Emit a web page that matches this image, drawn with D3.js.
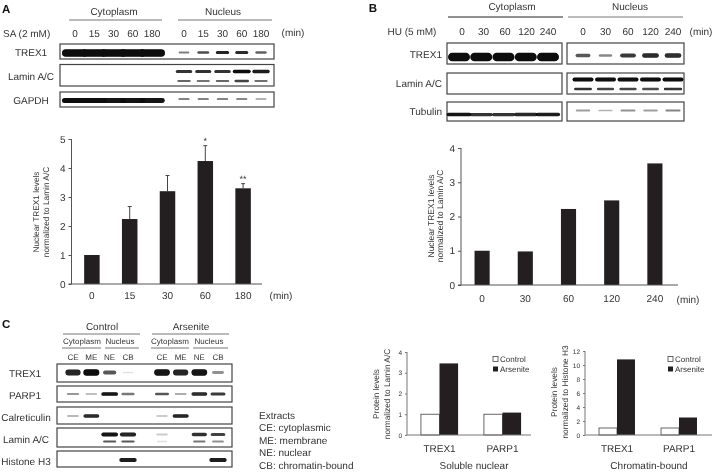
<!DOCTYPE html>
<html><head><meta charset="utf-8">
<script src="https://cdn.jsdelivr.net/npm/d3@7"></script>
<style>
html,body{margin:0;padding:0;background:#fff;overflow:hidden}
svg{display:block;filter:blur(0.3px)}
text{font-family:"Liberation Sans",Arial,sans-serif;fill:#333;text-rendering:geometricPrecision}
.domain{display:none}
</style></head><body>
<script>
// ---------- chart values ----------
const minA = ["0","15","30","60","180"];
const minB = ["0","30","60","120","240"];
const levelsA = [1, 2.24, 3.2, 4.24, 3.3];
const errTopA = [null, 2.67, 3.74, 4.77, 3.46];
const sigA = ["", "", "", "*", "**"];
const levelsB = [1, 0.98, 2.22, 2.47, 3.55];
const proteinsC = ["TREX1","PARP1"];
const seriesC = ["Control","Arsenite"];
const solubleControl = [1, 1];
const solubleArsenite = [3.45, 1.08];
const boundControl = [1, 1];
const boundArsenite = [10.8, 2.5];
const extractsC = ["CE","ME","NE","CB"];
const extractNotes = ["Extracts","CE: cytoplasmic","ME: membrane","NE: nuclear","CB: chromatin-bound"];

// band intensities per lane (0..1)
const aTrex1Cyt = [1,1,1,1,1];
const aTrex1Nuc = [.32,.55,.85,.8,.45];
const aLaminUpNuc = [.75,.7,.75,1,.9];
const aLaminLoNuc = [.42,.36,.42,.6,.38];
const aGapdhCyt = [1,1,.95,.95,.95];
const aGapdhNuc = [.3,.3,.3,.28,.22];
const bTrex1Cyt = [1,1,1,1,1];
const bTrex1Nuc = [.5,.28,.65,.8,.78];
const bLaminUpNuc = [1,1,1,1,1];
const bLaminLoNuc = [.7,.6,.6,.55,.75];
const bTubCyt = [.95,.75,.75,.82,.9];
const bTubNuc = [.2,.14,.25,.2,.3];
const cTrex1 = [.85,1,.5,.03,.95,.85,.95,.25];
const cParp1 = [.22,.1,.95,.35,.5,.15,.8,.65];
const cCalret = [.12,.8,0,0,.07,.85,0,0];
const cLaminUp = [0,0,.95,.85,.07,0,.7,.6];
const cLaminLo = [0,0,.5,.5,.03,0,.35,.25];
const cHistone = [0,0,0,.9,0,0,0,.9];

// ---------- set-up ----------
const svg = d3.select("body").append("svg").attr("width",713).attr("height",472);
const defs = svg.append("defs");
defs.append("filter").attr("id","bandBlur").attr("x","-20%").attr("y","-100%").attr("width","140%").attr("height","300%")
  .append("feGaussianBlur").attr("stdDeviation",0.7);

function label(x,y,s,size,opt={}){
  const t = svg.append("text").attr("x",x).attr("y",y).attr("dy","0.35em")
    .attr("text-anchor",opt.anchor||"middle").attr("font-size",size).text(s);
  if(opt.bold) t.attr("font-weight","bold").style("fill","#111");
  if(opt.rotate) t.attr("transform",`rotate(-90 ${x} ${y})`);
  return t;
}
function rule(x1,x2,y,col="#777",w=1){
  svg.append("line").attr("x1",x1).attr("x2",x2).attr("y1",y).attr("y2",y).attr("stroke",col).attr("stroke-width",w);
}
function blotBox(x0,x1,y0,y1){
  svg.append("rect").attr("x",x0).attr("y",y0).attr("width",x1-x0).attr("height",y1-y0)
    .attr("fill","#fff").attr("stroke","#444").attr("stroke-width",1.2);
}
// draws one row of bands; thickness and width follow the intensity
function bands(values,lane,y,maxH,maxW){
  const h = d3.scaleLinear([0,1],[1.6,maxH]);
  const w = d3.scaleLinear([0,1],[maxW*0.65,maxW]);
  const op = d3.scalePow().exponent(0.6).domain([0,1]).range([0,1]);
  svg.append("g").attr("filter","url(#bandBlur)").selectAll("rect").data(values).join("rect")
    .attr("x",(d,i)=>lane(i)-w(d)/2).attr("width",d=>w(d))
    .attr("y",d=>y-h(d)/2).attr("height",d=>h(d))
    .attr("rx",d=>h(d)/2).attr("fill","#080808").attr("opacity",d=>op(d));
}
const idx = n => d3.range(n);

// ---------- panel A blots ----------
label(2,9,"A",11.5,{anchor:"start",bold:true});
label(114,11,"Cytoplasm",10); label(223,11,"Nucleus",10);
rule(69,162,20); rule(178,272,20);
label(3,33,"SA (2 mM)",10,{anchor:"start"});
label(293,32,"(min)",10);
const aCyt = d3.scalePoint(idx(5),[75,152]);
const aNuc = d3.scalePoint(idx(5),[184,261]);
minA.forEach((m,i)=>{label(aCyt(i),33,m,10);label(aNuc(i),33,m,10);});
label(31,52,"TREX1",10);label(31,76,"Lamin A/C",10);label(31,100,"GAPDH",10);
blotBox(60,274,44,59); blotBox(60,274,64.5,86); blotBox(60,274,92,107);
bands(aTrex1Cyt,aCyt,53,7.5,26); bands(aTrex1Nuc,aNuc,52.5,3.4,14);
bands(aLaminUpNuc,aNuc,71.5,3.6,18); bands(aLaminLoNuc,aNuc,81,2.8,17);
bands(aGapdhCyt,aCyt,100.5,5,26); bands(aGapdhNuc,aNuc,99,2.2,15);

// ---------- panel A bars ----------
function barChart(values,cats,o){
  const y = d3.scaleLinear([0,o.max],[o.y0,o.y1]);
  const p = o.pad;
  const x = d3.scaleBand(cats,[o.xa,o.xb]).paddingInner(p).paddingOuter(p/2);
  const ay = svg.append("g").attr("transform",`translate(${o.axis},0)`)
    .call(d3.axisLeft(y).tickValues(d3.range(0,o.max+1)).tickFormat(d3.format("d")).tickSize(3).tickPadding(3));
  ay.selectAll("text").attr("font-size",10).style("fill","#333");
  ay.selectAll("line").attr("stroke","#555");
  svg.append("line").attr("x1",o.axis).attr("x2",o.axis).attr("y1",o.y0).attr("y2",o.y1).attr("stroke","#555").attr("stroke-width",1);
  const ax = svg.append("g").attr("transform",`translate(0,${o.y0})`)
    .call(d3.axisBottom(x).tickSize(0).tickPadding(o.tp));
  ax.selectAll("text").attr("font-size",10).style("fill","#333");
  svg.append("g").selectAll("rect").data(values).join("rect")
    .attr("x",(d,i)=>x(cats[i])).attr("width",x.bandwidth())
    .attr("y",d=>y(d)).attr("height",d=>o.y0-y(d)).attr("fill","#231f20");
  rule(o.axis-3,o.end,o.y0,"#555",1);
  return {x,y};
}
const chartA = barChart(levelsA,minA,{max:5,y0:284,y1:139,axis:71.5,xa:73,xb:262,pad:.59,end:262,tp:8});
errTopA.forEach((e,i)=>{
  if(e==null) return;
  const cx = chartA.x(minA[i])+chartA.x.bandwidth()/2;
  svg.append("line").attr("x1",cx).attr("x2",cx).attr("y1",chartA.y(levelsA[i])).attr("y2",chartA.y(e)).attr("stroke","#444");
  svg.append("line").attr("x1",cx-2).attr("x2",cx+2).attr("y1",chartA.y(e)).attr("y2",chartA.y(e)).attr("stroke","#444");
  if(sigA[i]) label(cx,chartA.y(e)-5,sigA[i],9);
});
label(36,212,"Nuclear TREX1 levels",8.3,{rotate:true});
label(46,212,"normalized to Lamin A/C",8.3,{rotate:true});
label(281,295,"(min)",10);

// ---------- panel B blots ----------
label(373,8,"B",11.5,{bold:true});
label(512,6,"Cytoplasm",10); label(630,6,"Nucleus",10);
rule(448,563,17,"#222"); rule(568,683,17,"#777");
label(412,31,"HU (5 mM)",10);
label(701,31,"(min)",10);
const bCyt = d3.scalePoint(idx(5),[462,548]);
const bNuc = d3.scalePoint(idx(5),[583,673]);
minB.forEach((m,i)=>{label(bCyt(i),31,m,10);label(bNuc(i),31,m,10);});
label(442,54,"TREX1",10,{anchor:"end"});label(442,83,"Lamin A/C",10,{anchor:"end"});label(442,111,"Tubulin",10,{anchor:"end"});
blotBox(447,562,43,64); blotBox(567,684,43,64);
blotBox(447,562,73,94); blotBox(567,684,73,94);
blotBox(447,562,102,121); blotBox(567,684,102,121);
const bCytBand = d3.scalePoint(idx(5),[459,548]);
bands(bTrex1Cyt,bCytBand,57,8.5,22); bands(bTrex1Nuc,bNuc,55.5,5.5,18);
bands(bLaminUpNuc,bNuc,79.5,4,21); bands(bLaminLoNuc,bNuc,89,3,20);
bands(bTubCyt,bCytBand,114.5,3.8,25); bands(bTubNuc,bNuc,110.5,2.4,20);

// ---------- panel B bars ----------
barChart(levelsB,minB,{max:4,y0:285,y1:148,axis:461,xa:460.5,xb:676.5,pad:.65,end:678,tp:10});
label(431,216,"Nuclear TREX1 levels",8.5,{rotate:true});
label(440,216,"normalized to Lamin A/C",8.5,{rotate:true});
label(688,299,"(min)",10);

// ---------- panel C blots ----------
label(2,324,"C",11.5,{anchor:"start",bold:true});
label(102,326,"Control",10); label(191,326,"Arsenite",10);
rule(63,140,334); rule(152,229,334);
label(82,341,"Cytoplasm",8); label(120,341,"Nucleus",8);
label(170,341,"Cytoplasm",8); label(209,341,"Nucleus",8);
rule(62,101,348);rule(105,139,348);rule(151,189,348);rule(193,228,348);
const cLeft = d3.scalePoint(idx(4),[73,128]);
const cRight = d3.scalePoint(idx(4),[162,218]);
const cLane = i => i<4 ? cLeft(i) : cRight(i-4);
extractsC.forEach((e,i)=>{label(cLeft(i),357,e,8);label(cRight(i),357,e,8);});
label(25,373,"TREX1",10);label(25,395,"PARP1",10);label(26,417,"Calreticulin",10);
label(26,439,"Lamin A/C",10);label(26,461,"Histone H3",10);
blotBox(57,232,364,382);blotBox(57,232,386,402);blotBox(57,232,407,424);blotBox(57,232,428,447);blotBox(57,232,451,467);
bands(cTrex1,cLane,372.5,6.5,16); bands(cParp1,cLane,394,3.8,17);
bands(cCalret,cLane,416,3.8,17); bands(cLaminUp,cLane,434.5,4.2,17);
bands(cLaminLo,cLane,441.5,2.8,16); bands(cHistone,cLane,460,4.4,18);
extractNotes.forEach((s,i)=>label(259,d3.scaleLinear([0,4],[415,465])(i),s,10,{anchor:"start"}));

// ---------- panel C grouped bars ----------
function groupChart(control,arsenite,o){
  const y = d3.scaleLinear([0,o.max],[435,o.y1]);
  const x = d3.scaleBand(proteinsC,[o.xa,o.xb]).paddingInner(o.pad).paddingOuter(o.pad/2);
  const inner = d3.scaleBand(seriesC,[0,x.bandwidth()]);
  const ay = svg.append("g").attr("transform",`translate(${o.axis},0)`)
    .call(d3.axisLeft(y).tickValues(d3.range(0,o.max+1,o.step)).tickFormat(d3.format("d")).tickSize(2).tickPadding(3));
  ay.selectAll("text").attr("font-size",6.5).style("fill","#333");
  ay.selectAll("line").attr("stroke","#777");
  svg.append("line").attr("x1",o.axis).attr("x2",o.axis).attr("y1",435).attr("y2",o.y1).attr("stroke","#777");
  const ax = svg.append("g").attr("transform","translate(0,435)")
    .call(d3.axisBottom(x).tickSize(0).tickPadding(10));
  ax.selectAll("text").attr("font-size",10).style("fill","#333");
  [control,arsenite].forEach((vals,s)=>{
    svg.append("g").selectAll("rect").data(vals).join("rect")
      .attr("x",(d,i)=>x(proteinsC[i])+inner(seriesC[s])).attr("width",inner.bandwidth())
      .attr("y",d=>y(d)).attr("height",d=>435-y(d))
      .attr("fill",s?"#231f20":"#fff").attr("stroke",s?"none":"#555").attr("stroke-width",.9);
  });
  rule(o.axis,o.end,435,"#777",1);
  seriesC.forEach((n,s)=>{
    const ly = d3.scaleLinear([0,1],o.legY)(s);
    svg.append("rect").attr("x",o.legX).attr("y",ly-2.5).attr("width",5).attr("height",5)
      .attr("fill",s?"#231f20":"#fff").attr("stroke",s?"none":"#444").attr("stroke-width",.8);
    label(o.legX+7,ly,n,8,{anchor:"start"});
  });
}
groupChart(solubleControl,solubleArsenite,{max:4,step:1,y1:352,axis:407,xa:408,xb:534,pad:.41,end:531,legX:493,legY:[359,369]});
groupChart(boundControl,boundArsenite,{max:12,step:2,y1:351,axis:585,xa:586,xb:710,pad:.42,end:712,legX:668,legY:[359,369]});
label(474,465,"Soluble nuclear",10); label(649,465,"Chromatin-bound",10);
label(376,394,"Protein levels",8.3,{rotate:true});
label(387,394,"normalized to Lamin A/C",8.3,{rotate:true});
label(554,392,"Protein levels",8.3,{rotate:true});
label(565,392,"normalized to Histone H3",8.3,{rotate:true});
</script>
</body></html>
